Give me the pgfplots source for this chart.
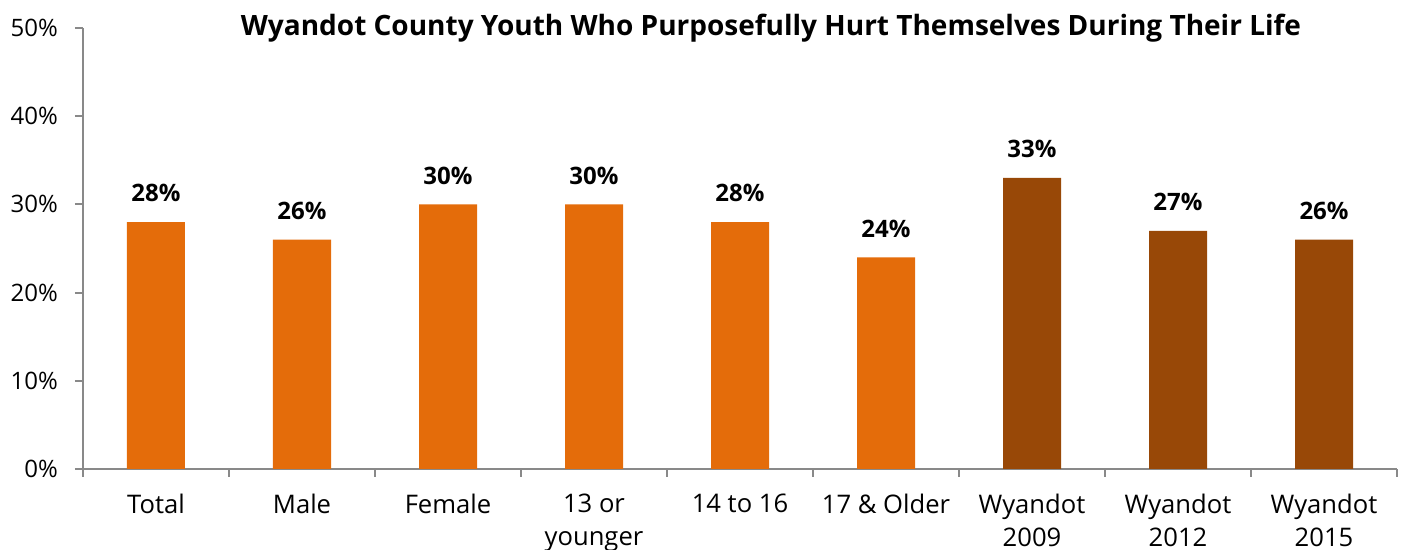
\documentclass[border=0pt]{standalone}
\usepackage{fontspec}
\setmainfont{Open Sans}
\usepackage{pgfplots}
\pgfplotsset{compat=1.18}
\definecolor{barorange}{HTML}{E46C0A}
\definecolor{barbrown}{HTML}{984807}
\definecolor{axisgray}{HTML}{898989}
\begin{document}
\begin{tikzpicture}
\begin{axis}[
    at={(0,0)}, anchor=south west,
    scale only axis,
    width=657pt, height=220.5pt,
    xmin=-0.5, xmax=8.5,
    ymin=0, ymax=50,
    axis x line*=bottom,
    axis y line*=left,
    axis line style={axisgray, line width=1pt},
    xtick={0,...,8},
    xticklabels={Total, Male, Female, {13 or\\younger}, 14 to 16, 17 \& Older, {Wyandot\\2009}, {Wyandot\\2012}, {Wyandot\\2015}},
    xticklabel style={align=center, font=\fontsize{12.8}{16.5}\selectfont, yshift=-5pt},
    major x tick style={draw=none},
    minor xtick={-0.5,0.5,...,8.5},
    minor x tick style={axisgray, line width=1pt},
    minor tick length=4pt,
    tick align=outside,
    ytick={0,10,...,50},
    yticklabel={\pgfmathprintnumber{\tick}\%},
    yticklabel style={font=\fontsize{12}{14}\selectfont, xshift=-5pt},
    major y tick style={axisgray, line width=1pt},
    major tick length=4pt,
    /pgf/number format/assume math mode=true,
    ybar, bar width=29pt, bar shift=0pt,
    nodes near coords={\pgfmathprintnumber{\pgfplotspointmeta}\%},
    every node near coord/.append style={font=\fontsize{12}{14}\selectfont\bfseries, yshift=6.5pt},
    clip=false,
]
\addplot[draw=none, fill=barorange] coordinates {(0,28) (1,26) (2,30) (3,30) (4,28) (5,24)};
\addplot[draw=none, fill=barbrown] coordinates {(6,33) (7,27) (8,26)};
\node[font=\fontsize{14}{16}\selectfont\bfseries, anchor=center] at ([xshift=15.5pt, yshift=0pt]rel axis cs:0.5,1) {Wyandot County Youth Who Purposefully Hurt Themselves During Their Life};
\end{axis}
\pgfresetboundingbox
\path (-41.5pt,-40.5pt) rectangle (662pt,234.5pt);
\end{tikzpicture}
\end{document}
